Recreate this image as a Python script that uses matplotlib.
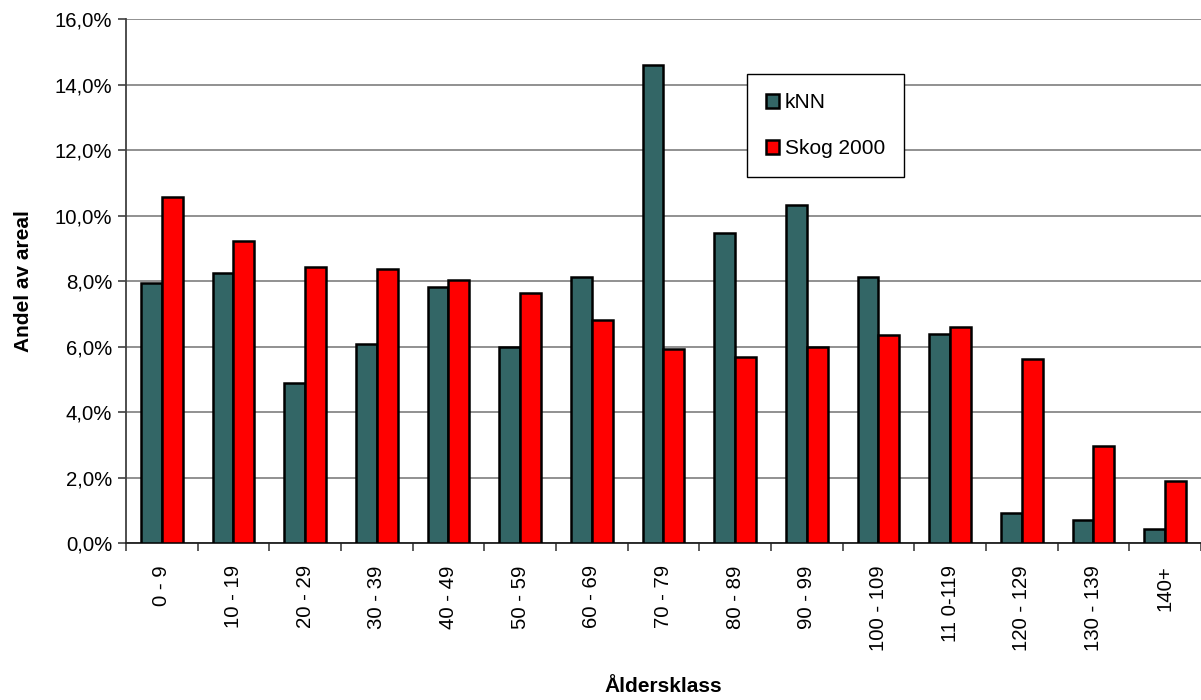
import numpy as np
import matplotlib.pyplot as plt
from matplotlib.ticker import FuncFormatter, FixedLocator

plt.rcParams['font.family'] = ['Liberation Sans', 'DejaVu Sans']

# Age classes and share of area (%) per source
classes = ['0 - 9', '10 - 19', '20 - 29', '30 - 39', '40 - 49', '50 - 59',
           '60 - 69', '70 - 79', '80 - 89', '90 - 99', '100 - 109',
           '11 0-119', '120 - 129', '130 - 139', '140+']
knn = [7.95, 8.25, 4.89, 6.08, 7.81, 6.00, 8.14, 14.61, 9.46, 10.34,
       8.13, 6.39, 0.92, 0.69, 0.44]
skog2000 = [10.58, 9.23, 8.44, 8.36, 8.04, 7.63, 6.81, 5.92, 5.68, 5.99,
            6.36, 6.61, 5.61, 2.95, 1.89]

fig = plt.figure(figsize=(12.01, 7), dpi=100)
ax = fig.add_axes([0.1049, 0.2243, 0.8951, 0.7481])

x = np.arange(len(classes))
w = 0.29
ax.bar(x - w / 2, knn, w, color='#336666', edgecolor='black',
       linewidth=1.8, label='kNN', zorder=3)
ax.bar(x + w / 2, skog2000, w, color='#ff0000', edgecolor='black',
       linewidth=1.8, label='Skog 2000', zorder=3)

ax.set_xlim(-0.5, len(classes) - 0.5)
ax.set_ylim(0, 16)
ax.set_yticks(np.arange(0, 16.1, 2))
ax.yaxis.set_major_formatter(FuncFormatter(lambda v, p: f'{v:.1f}%'.replace('.', ',')))
ax.yaxis.grid(True, color='#737373', linewidth=1.1, zorder=0)

ax.set_xticks(x)
ax.set_xticklabels(classes, rotation=90, va='top', ha='center')
ax.xaxis.set_minor_locator(FixedLocator(np.arange(-0.5, len(classes), 1)))
ax.tick_params(axis='x', which='major', length=0, pad=16, labelsize=14.7)
ax.tick_params(axis='x', which='minor', length=6, width=1.2, color='#404040')
ax.tick_params(axis='y', length=6, width=1.2, color='#404040', labelsize=14.7, pad=4)

for s in ['top', 'right']:
    ax.spines[s].set_visible(False)
ax.spines['left'].set_color('#404040')
ax.spines['left'].set_linewidth(1.3)
ax.spines['bottom'].set_color('#202020')
ax.spines['bottom'].set_linewidth(1.3)

ax.set_ylabel('Andel av areal', fontsize=15, fontweight='bold')
ax.yaxis.set_label_coords(-0.0865, 0.5)
ax.set_xlabel('Åldersklass', fontsize=15, fontweight='bold')
ax.xaxis.set_label_coords(0.5, -0.256)

leg = ax.legend(loc='upper left', bbox_to_anchor=(0.5777, 0.895),
                fontsize=15, frameon=True, fancybox=False, shadow=False,
                handlelength=0.65, handleheight=0.65, handletextpad=0.25,
                labelspacing=1.3, borderpad=0.9, borderaxespad=0)
leg.get_frame().set_edgecolor('black')
leg.get_frame().set_linewidth(1.0)
leg.get_frame().set_alpha(1)

fig.savefig('out.png', dpi=100)
